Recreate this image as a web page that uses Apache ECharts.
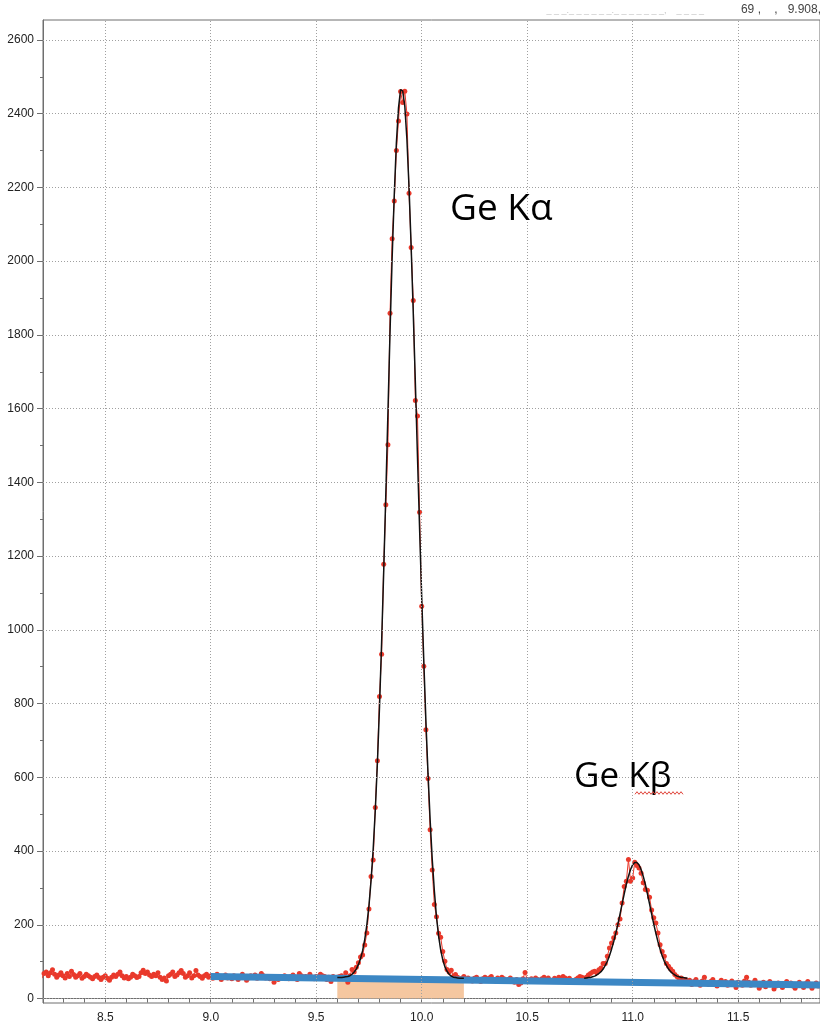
<!DOCTYPE html>
<html>
<head>
<meta charset="utf-8">
<script src="https://cdn.jsdelivr.net/npm/echarts@6/dist/echarts.min.js"></script>
<style>
  html, body { margin: 0; padding: 0; background: #ffffff; }
  #chart { width: 820px; height: 1027px; }
</style>
</head>
<body>
<div id="chart"></div>
<script>
// ---------------- data (counts per 0.01 keV channel) ----------------
const channelWidth = 0.01;

const bgLowStart = 8.20;   // 8.20 - 8.99
const bgLowCounts = [55,68,72,62,70,78,66,58,64,70,
  62,56,68,60,74,65,58,62,68,55,
  60,66,62,58,54,60,64,57,52,58,
  62,55,50,58,64,60,66,72,62,56,
  60,54,58,66,62,57,60,70,77,68,
  72,64,60,66,62,70,58,52,56,48,
  62,66,72,60,64,70,76,68,58,62,
  70,56,62,76,64,60,55,62,66,58];

const bgMidStart = 9.00;   // 9.00 - 9.63
const bgMidCounts = [62,55,60,66,58,52,60,64,56,60,
  54,62,58,52,60,66,58,50,56,62,
  58,64,55,60,68,62,56,60,54,58,
  44,58,52,60,56,62,58,54,60,64,
  58,52,68,62,58,60,55,66,58,54,
  60,56,66,62,60,52,58,46,60,56,
  58,60,62,58];

const kaStart = 9.64;      // 9.64 - 10.16
const kaCounts = [70,44,62,79,72,85,97,113,118,145,
  178,243,331,376,518,645,819,934,1178,1339,
  1502,1859,2061,2163,2300,2380,2460,2430,2461,2399,
  2184,2037,1893,1622,1580,1319,1064,901,729,597,
  458,349,255,222,177,166,128,101,79,72,
  77,60,65];

const bgGapStart = 10.17;  // 10.17 - 10.77
const bgGapCounts = [58,52,55,60,50,56,52,48,55,58,
  52,46,54,58,50,56,60,52,48,56,
  52,58,54,48,52,56,50,44,52,38,
  42,54,71,52,46,54,50,56,52,48,
  54,58,52,56,50,48,55,52,58,54,
  60,56,52,55,50,46,52,56,60,58,
  54];

const kbStart = 10.78;     // 10.78 - 11.25
const kbCounts = [58,64,68,72,74,70,78,83,95,95,
  115,137,151,165,178,200,216,259,304,318,
  377,318,327,370,361,354,340,314,296,294,
  275,240,219,205,178,146,128,115,95,88,
  80,74,65,60,52,56,48,52];

const bgHighStart = 11.26; // 11.26 - 11.89
const bgHighCounts = [44,50,38,46,52,40,36,48,58,44,
  38,46,52,42,34,44,50,40,46,36,
  42,48,38,30,44,40,36,48,58,44,
  36,42,50,38,28,36,44,32,40,46,
  38,26,34,42,36,30,40,46,38,42,
  34,28,38,44,36,30,40,46,36,28,
  38,42,34,30];

// fitted peak curves (black)
const kaFitStart = 9.60;   // 9.60 - 10.20
const kaFit = [57,57,57,58,59,60,62,66,72,80,
  92,108,130,160,200,252,320,405,510,638,
  790,965,1160,1370,1590,1810,2010,2180,2320,2415,
  2465,2462,2420,2330,2200,2040,1860,1670,1470,1275,
  1090,915,752,610,485,378,292,222,170,132,
  105,86,74,66,61,58,57,56,55,55,
  55];

const kbFitStart = 10.77;  // 10.77 - 11.26
const kbFit = [55,56,57,57,59,61,64,68,73,80,
  90,101,116,134,154,177,202,229,257,284,
  310,332,350,363,369,369,363,350,332,310,
  284,257,229,202,177,154,134,116,101,90,
  80,73,68,64,61,59,57,57,56,55];

// background line (blue) and integration window (orange)
const backgroundEnergies = [9.0, 11.89];
const backgroundCounts = [60, 37];
const windowEnergies = [9.6, 10.2];
const windowCounts = [55, 50];

// axis tick labels
const xLabelValues = [8.5, 9.0, 9.5, 10.0, 10.5, 11.0, 11.5];
const xTickValues = [8.3,8.4,8.5,8.6,8.7,8.8,8.9,9.0,9.1,9.2,9.3,9.4,9.5,9.6,9.7,9.8,9.9,10.0,
  10.1,10.2,10.3,10.4,10.5,10.6,10.7,10.8,10.9,11.0,11.1,11.2,11.3,11.4,11.5,11.6,11.7,11.8];
const yLabelValues = [0,200,400,600,800,1000,1200,1400,1600,1800,2000,2200,2400,2600];
const yMinorTickValues = [100,300,500,700,900,1100,1300,1500,1700,1900,2100,2300,2500];

const peakLabels = ['Ge K\u03b1', 'Ge K\u03b2'];
const headerText = '69 ,    ,   9.908,';

// ---------------- build ----------------
function seg(start, arr) {
  return arr.map((v, i) => [Math.round((start + channelWidth * i) * 100) / 100, v]);
}
const spectrum = [].concat(
  seg(bgLowStart, bgLowCounts), seg(bgMidStart, bgMidCounts), seg(kaStart, kaCounts),
  seg(bgGapStart, bgGapCounts), seg(kbStart, kbCounts), seg(bgHighStart, bgHighCounts));
const kaFitData = seg(kaFitStart, kaFit);
const kbFitData = seg(kbFitStart, kbFit);
const bgData = backgroundEnergies.map((e, i) => [e, backgroundCounts[i]]);
const windowData = windowEnergies.map((e, i) => [e, windowCounts[i]]);

const gridLines = xLabelValues.map(v => ({ xAxis: v })).concat(yLabelValues.map(v => ({ yAxis: v })));

const RED = '#e9392b';
const AXIS = '#6f6f6f';
const axisFont = 'Liberation Sans';

const squiggle = [];
for (let x = 635, k = 0; x <= 684; x += 2, k++) squiggle.push([x, 793 + (k % 2 ? -1.3 : 1.3)]);

const chart = echarts.init(document.getElementById('chart'), null, { renderer: 'canvas' });
chart.setOption({
  animation: false,
  backgroundColor: '#ffffff',
  grid: { left: 43, right: 0, top: 20, bottom: 24, show: true, borderColor: AXIS, borderWidth: 1, backgroundColor: 'transparent' },
  xAxis: [{
    type: 'value', min: 8.205, max: 11.888,
    axisLine: { show: true, lineStyle: { color: AXIS, width: 1 } },
    axisTick: { show: true, customValues: xTickValues, length: 4, lineStyle: { color: AXIS } },
    axisLabel: { customValues: xLabelValues, margin: 9, color: '#222', fontFamily: axisFont, fontSize: 12,
      formatter: v => Number(v).toFixed(1) },
    splitLine: { show: false }
  }],
  yAxis: [{
    type: 'value', min: -12, max: 2654,
    axisLine: { show: true, lineStyle: { color: AXIS, width: 1 } },
    axisTick: { show: true, customValues: yLabelValues, length: 6, lineStyle: { color: AXIS } },
    axisLabel: { customValues: yLabelValues, margin: 9, color: '#222', fontFamily: axisFont, fontSize: 12,
      formatter: v => String(Math.round(v)) },
    splitLine: { show: false }
  }, {
    type: 'value', min: -12, max: 2654, position: 'left',
    axisLine: { show: false },
    axisTick: { show: true, customValues: yMinorTickValues, length: 3, lineStyle: { color: AXIS } },
    axisLabel: { show: false },
    splitLine: { show: false }
  }],
  series: [
    { type: 'line', data: windowData, symbol: 'none', lineStyle: { width: 0 },
      areaStyle: { color: '#f5c7a0', opacity: 1 }, z: 1 },
    { type: 'line', data: [], symbol: 'none', z: 1.5, silent: true,
      markLine: { silent: true, symbol: 'none', label: { show: false },
        lineStyle: { color: '#a0a0a0', type: [1, 2], width: 1 }, emphasis: { disabled: true }, data: gridLines } },
    { type: 'line', data: spectrum, symbol: 'circle', symbolSize: 5, showSymbol: true,
      lineStyle: { color: RED, width: 1 }, itemStyle: { color: RED }, z: 2 },
    { type: 'line', data: bgData, symbol: 'none', lineStyle: { color: '#3c87c4', width: 7, cap: 'butt' }, z: 3 },
    { type: 'line', data: kaFitData, symbol: 'none', lineStyle: { color: '#111', width: 1.5 }, z: 4 },
    { type: 'line', data: kbFitData, symbol: 'none', lineStyle: { color: '#111', width: 1.5 }, z: 4 }
  ],
  graphic: [
    { type: 'text', x: 450, y: 209, z: 10, style: { text: peakLabels[0], font: '37px "Open Sans"', fill: '#000', textAlign: 'left', textVerticalAlign: 'middle' } },
    { type: 'text', x: 574, y: 777, z: 10, style: { text: peakLabels[1], font: '35px "Open Sans"', fill: '#000', textAlign: 'left', textVerticalAlign: 'middle' } },
    { type: 'polyline', z: 10, shape: { points: squiggle }, style: { stroke: '#e0443a', lineWidth: 1, fill: null } },
    { type: 'text', x: 821, y: 10, z: 10, style: { text: headerText, font: '12px "Liberation Sans"', fill: '#444', textAlign: 'right', textVerticalAlign: 'middle' } },
    { type: 'text', x: 704, y: 11, z: 10, style: { text: '_ _ _._ _ _ _ _ _._ _ _ _ _ _ _,    _ _ _ _', font: '9px "Liberation Sans"', fill: '#c4c4c4', textAlign: 'right', textVerticalAlign: 'middle' } }
  ]
});
</script>
</body>
</html>
